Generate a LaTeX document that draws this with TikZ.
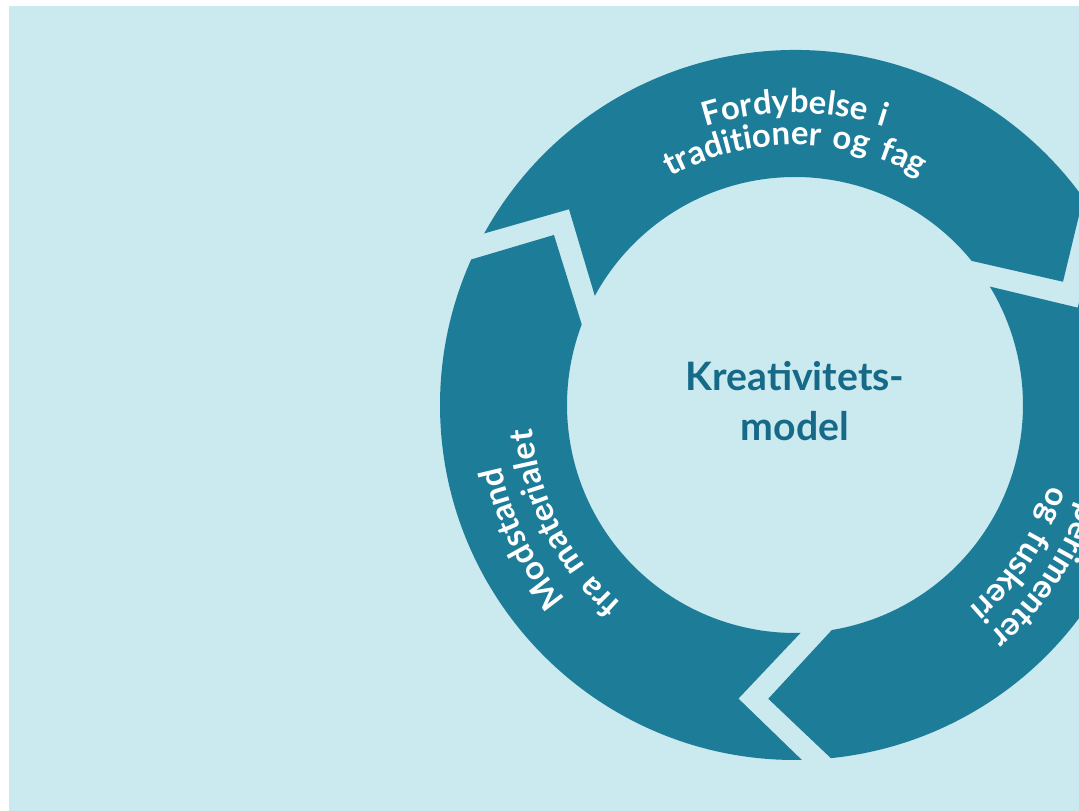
\documentclass[tikz,border=0pt]{standalone}
\usepackage{fontspec}
\setmainfont{Lato}
\usetikzlibrary{decorations.text}
\definecolor{bgblue}{RGB}{202,234,239}
\definecolor{ringblue}{RGB}{29,125,153}
\definecolor{titleblue}{RGB}{22,106,136}
\newfontfamily\ringfont[LetterSpace=10]{Lato}
\newcommand{\ringline}[3]{%
  \path[decorate,decoration={text along path,text align=center,
    text={|\ringfont\bfseries\fontsize{18.7}{18.7}\selectfont\color{white}|#3}}]
    (#2+70:#1) arc[start angle=#2+70, end angle=#2-70, radius=#1];}

\begin{document}
\begin{tikzpicture}[x=0.02cm,y=0.02cm]
  \useasboundingbox (-795,405) rectangle (284,-406);
  \fill[white] (-795,405) rectangle (284,-406);
  \fill[bgblue] (-786,399) rectangle (284,-406);
  \clip (-786,399) rectangle (284,-406);
  % three arrow pieces, clockwise
  \foreach \tail/\head in {144.8/24.7, 24.7/-95.2, -95.2/-215.2}
    \fill[ringblue] (\tail+6.3:355) arc[start angle=\tail+6.3, end angle=\head+11, radius=355]
      -- (\head:295) -- (\head+14.5:228)
      arc[start angle=\head+14.5, end angle=\tail+6.6, radius=228]
      -- (\tail-5.7:299) -- cycle;
  \ringline{292}{90}{Fordybelse i}
  \ringline{260}{90}{traditioner og fag}
  \ringline{301}{-29.5}{Eksperimenter}
  \ringline{267}{-33.5}{og fuskeri}
  \ringline{300}{206}{Modstand}
  \ringline{264}{207}{fra materialet}
  \node[titleblue,font=\bfseries\fontsize{22.3}{28.5}\selectfont,align=center] (title) at (0,4) {Kreativitets-\\model};
\end{tikzpicture}
\end{document}
